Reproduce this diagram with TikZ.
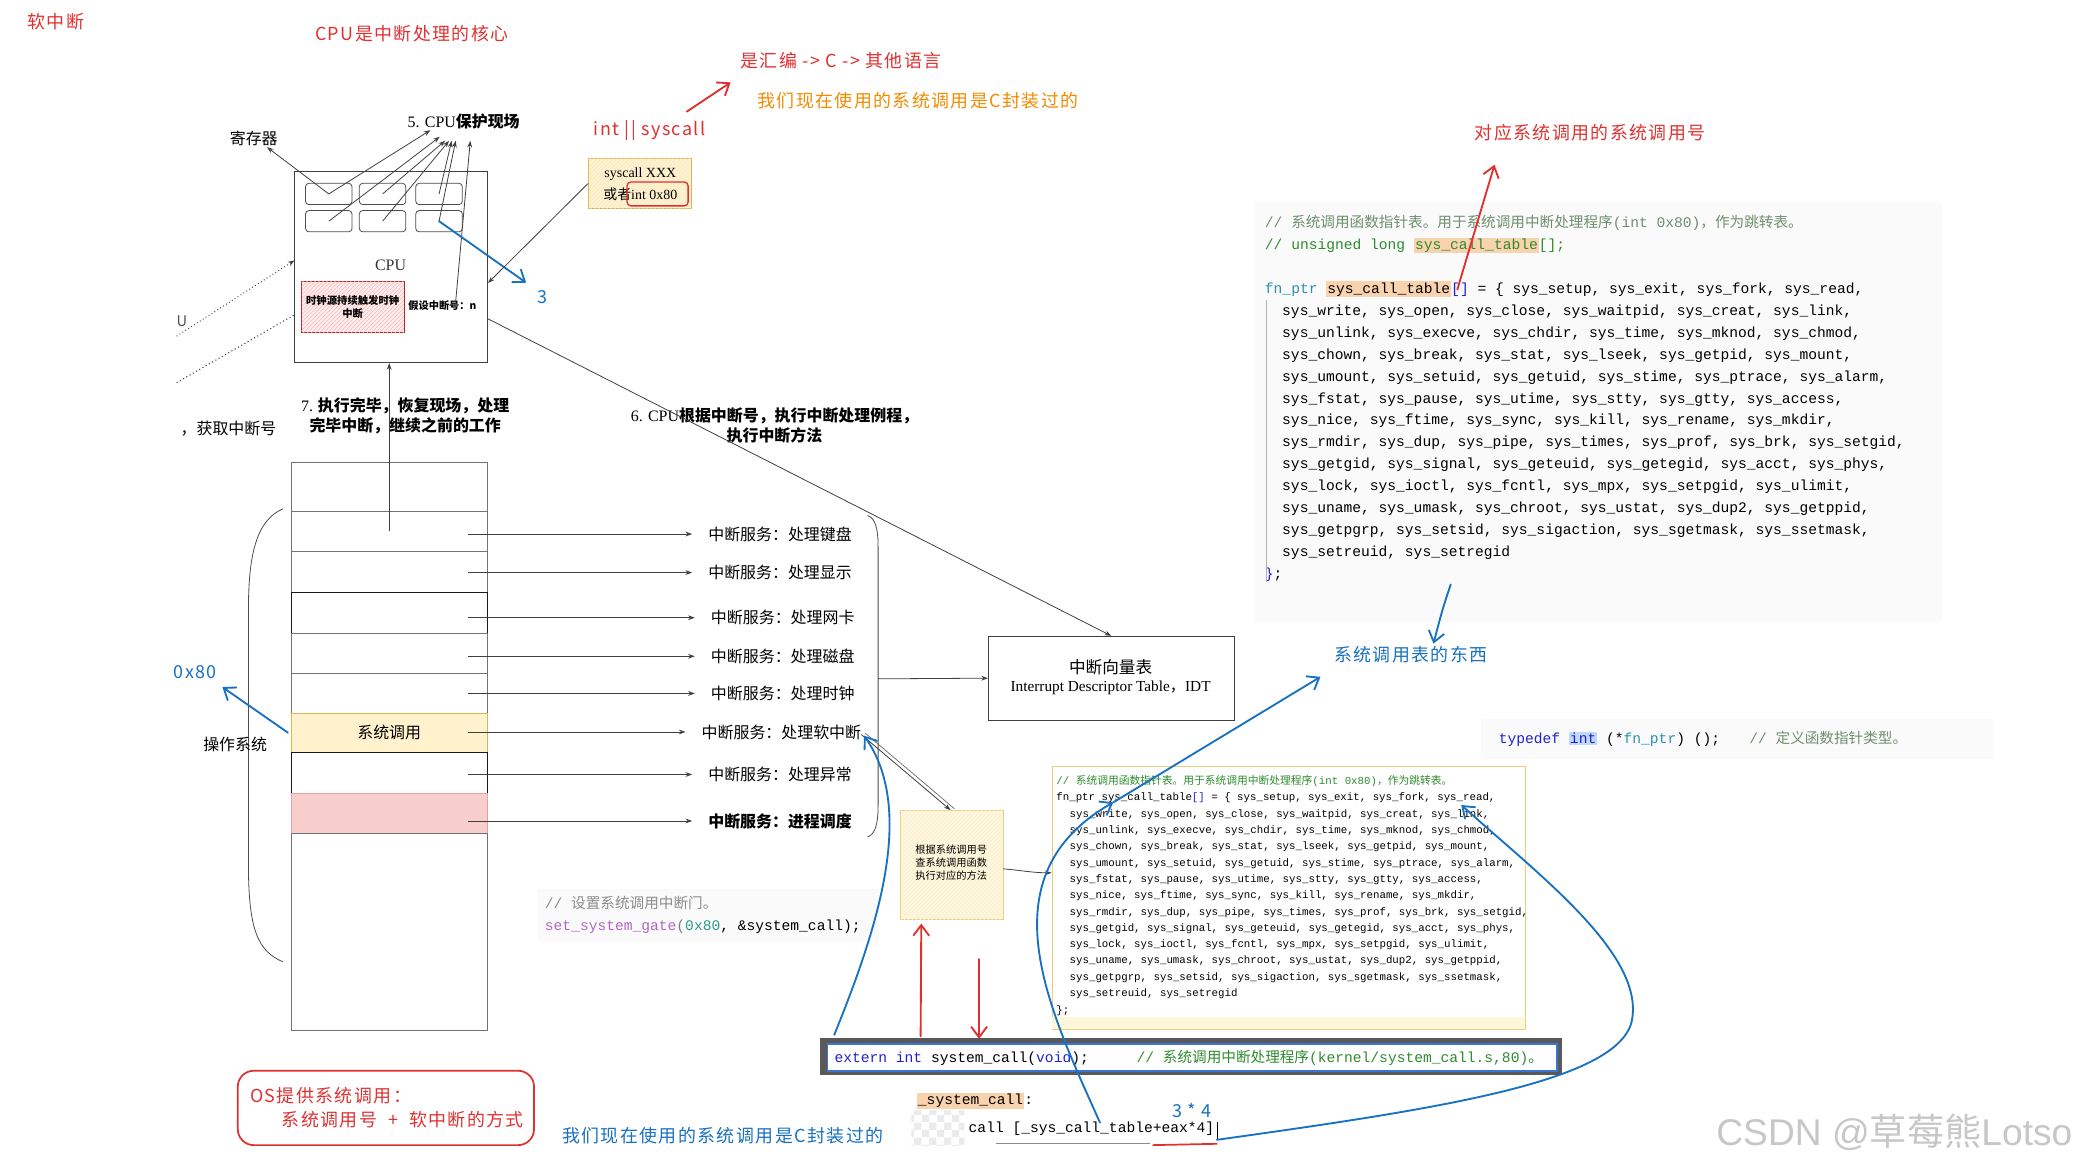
\documentclass[tikz,border=0pt]{standalone}
\usepackage{fontspec}
\setmainfont{Liberation Serif}
\setsansfont{Liberation Sans}
\setmonofont{Liberation Mono}
\newfontfamily\cjk{Noto Sans CJK SC}
\newfontfamily\inkfont[LetterSpace=8]{Noto Sans CJK SC}
\usetikzlibrary{positioning, arrows.meta, patterns}

\definecolor{inkred}{HTML}{E03131}
\definecolor{inkblue}{HTML}{1971C2}
\definecolor{inkorange}{HTML}{F08C00}
\definecolor{kwblue}{HTML}{2222CC}
\definecolor{typeteal}{HTML}{2B91AF}
\definecolor{cmtgreen}{HTML}{2E8B2E}
\definecolor{cmtgray}{HTML}{6F8F6F}
\definecolor{hlorange}{HTML}{F9D2AE}
\definecolor{intbg}{HTML}{BFD9FF}
\definecolor{gatepurple}{HTML}{B565C5}
\definecolor{numteal}{HTML}{2A9A8A}
\definecolor{linkblue}{HTML}{3A74D8}
\definecolor{noteyellow}{HTML}{FFF7DC}
\definecolor{noteborder}{HTML}{E9CF7E}
\definecolor{syscallfill}{HTML}{FFF2CC}
\definecolor{syscalldraw}{HTML}{D6B656}
\definecolor{schedfill}{HTML}{F8CECC}
\definecolor{scheddraw}{HTML}{E8A1A0}

\newcommand\zh[1]{{\cjk #1}}
\newcommand\hl[2]{{\setlength\fboxsep{0.8pt}\colorbox{#1}{#2}}}

\tikzset{
  arr/.style={-{Stealth[length=5pt,width=3.6pt]}, draw=black!75, line width=0.6pt},
  inkarrow/.style={-{Straight Barb[length=8pt,width=12pt,line width=1.4pt]}, line width=1.4pt, line cap=round, line join=round},
  slot/.style={draw=black!55, line width=0.6pt, minimum width=148pt, inner sep=0pt},
  slotdark/.style={slot, draw=black!90},
  sysslot/.style={slot, draw=syscalldraw, fill=syscallfill},
  schedslot/.style={slot, draw=scheddraw, fill=schedfill},
  reg/.style={draw=black!70, line width=0.6pt, rounded corners=2.5pt, minimum width=35pt, minimum height=16pt, inner sep=0pt},
  ink/.style={font=\inkfont\fontsize{13.5}{17}\selectfont, inner sep=0pt},
  svc/.style={font=\cjk\fontsize{12}{15}\selectfont, inner sep=0pt},
  boldtxt/.style={font=\cjk\bfseries\fontsize{12}{15}\selectfont, inner sep=0pt, align=center},
  tinytxt/.style={font=\cjk\fontsize{7.7}{9.8}\selectfont, inner sep=0pt, align=center},
  mono/.style={font=\ttfamily\fontsize{11}{13}\selectfont, inner sep=0pt, anchor=base west},
  monosm/.style={font=\ttfamily\fontsize{8.1}{10}\selectfont, inner sep=0pt, anchor=base west},
}

\begin{document}
\catcode`\_=12
\begin{tikzpicture}[x=1pt, y=-1pt]
  \def\sysrows{{sys_write, sys_open, sys_close, sys_waitpid, sys_creat, sys_link,},
    {sys_unlink, sys_execve, sys_chdir, sys_time, sys_mknod, sys_chmod,},
    {sys_chown, sys_break, sys_stat, sys_lseek, sys_getpid, sys_mount,},
    {sys_umount, sys_setuid, sys_getuid, sys_stime, sys_ptrace, sys_alarm,},
    {sys_fstat, sys_pause, sys_utime, sys_stty, sys_gtty, sys_access,},
    {sys_nice, sys_ftime, sys_sync, sys_kill, sys_rename, sys_mkdir,},
    {sys_rmdir, sys_dup, sys_pipe, sys_times, sys_prof, sys_brk, sys_setgid,},
    {sys_getgid, sys_signal, sys_geteuid, sys_getegid, sys_acct, sys_phys,},
    {sys_lock, sys_ioctl, sys_fcntl, sys_mpx, sys_setpgid, sys_ulimit,},
    {sys_uname, sys_umask, sys_chroot, sys_ustat, sys_dup2, sys_getppid,},
    {sys_getpgrp, sys_setsid, sys_sigaction, sys_sgetmask, sys_ssetmask,},
    {sys_setreuid, sys_setregid}}
  \fill[white] (0,0) rectangle (1568,878);
  \useasboundingbox (0,0) rectangle (1568,878);

  % handwritten notes
  \node[ink, text=inkred] (title) at (42,16) {软中断};
  \node[ink, text=inkred] (core) at (310,25) {CPU是中断处理的核心};
  \node[ink, text=inkred] (lang) at (633,46) {是汇编 -> C -> 其他语言};
  \node[ink, text=inkorange] (wrap) at (691,76) {我们现在使用的系统调用是C封装过的};
  \node[ink, text=inkred] (intsys) at (489,98) {int || syscall};
  \node[ink, text=inkred] (numtxt) at (1197,100) {对应系统调用的系统调用号};
  \node[ink, text=inkblue] (tbltxt) at (1062,493) {系统调用表的东西};
  \node[ink, text=inkblue] (hex) at (147,506) {0x80};
  \node[ink, text=inkblue] (three) at (408,224) {3};
  \node[ink, text=inkblue] (twelve) at (897,836) {3 * 4};
  \node[ink, text=inkblue] (wrap2) at (544,855) {我们现在使用的系统调用是C封装过的};

  % CPU
  \node[draw=black!75, line width=0.7pt, minimum width=145pt, minimum height=144pt, inner sep=0pt] (cpu) at (294.5,201) {};
  \node[reg] (r1) at (247.5,146) {};
  \node[reg] (r2) at (288,146) {};
  \node[reg] (r3) at (330.5,146) {};
  \node[reg] (r4) at (247.5,166.5) {};
  \node[reg] (r5) at (288,166.5) {};
  \node[reg] (r6) at (330.5,166.5) {};
  \node[font=\rmfamily\fontsize{12}{14}\selectfont, text=black!80] (cpulbl) at (294,200) {CPU};
  \node[draw=inkred!80!black, fill=red!6, postaction={pattern=north east lines, pattern color=red!30},
        minimum width=77pt, minimum height=38pt, inner sep=0pt, font=\cjk\bfseries\fontsize{7.8}{10}\selectfont, align=center] (clk) at (265.5,231) {时钟源持续触发时钟\\中断};
  \node[font=\cjk\bfseries\fontsize{7.7}{9}\selectfont, inner sep=0pt] (nid) at (333,230) {假设中断号：n};
  \node[boldtxt, anchor=south] (prot) at (349,97) {{\rmfamily\mdseries 5. CPU}保护现场};
  \node[svc] (regs) at (191,104) {寄存器};
  \draw[arr] (r1.center) -- ([xshift=10pt,yshift=-1pt]regs.south);
  \draw[arr] (r1.center) -- ([xshift=-25pt,yshift=-1pt]prot.south);
  \draw[arr] (r4.center) -- ([xshift=-18pt,yshift=-6pt]prot.south);
  \draw[arr] (r2.center) -- ([xshift=-14pt,yshift=-9pt]prot.south);
  \draw[arr] (r5.center) -- ([xshift=-11pt,yshift=-9pt]prot.south);
  \draw[arr] (r3.center) -- ([xshift=-9pt,yshift=-9pt]prot.south);
  \draw[arr] (r6.center) -- ([xshift=-6pt,yshift=-9pt]prot.south);
  \draw[arr] ([xshift=10pt,yshift=-1pt]nid.north) -- ([xshift=5pt,yshift=-9pt]prot.south);
  \draw[inkarrow, inkblue] (r6.center) -- ([xshift=-8pt,yshift=6pt]three.north west);

  % left side
  \coordinate (dot1) at (133,253);
  \coordinate (dot2) at (133,288);
  \draw[arr, dotted, line width=0.8pt] (dot1) -- ([yshift=5pt]cpu.west);
  \draw[black!75, dotted, line width=0.8pt] (dot2) -- ([yshift=-36pt]cpu.west);
  \node[svc, font=\cjk\fontsize{11}{13}\selectfont, text=black!70] (ulbl) at (137,242) {U};
  \node[svc] (getnum) at (172,323) {，获取中断号};

  % syscall box
  \node[draw=syscalldraw, fill=syscallfill, postaction={pattern=north east lines, pattern color=syscalldraw!30},
        minimum width=77pt, minimum height=38pt, inner sep=0pt] (sc) at (481.5,138) {};
  \node[font=\rmfamily\fontsize{10.5}{12}\selectfont, inner sep=0pt] (sct1) at (482,131) {syscall XXX};
  \node[font=\rmfamily\fontsize{10.5}{12}\selectfont, inner sep=0pt] (sct2) at (482,146) {\zh{或者}int 0x80};
  \node[draw=inkred, line width=1pt, rounded corners=3pt, minimum width=46pt, minimum height=18pt] (hlbox) at (495,146) {};
  \draw[arr] (sc.west) -- ([yshift=-12pt]cpu.east);
  \coordinate (ia) at (517,84);
  \coordinate (ib) at (550,62);
  \draw[inkarrow, inkred] (ia) -- (ib);

  % steps
  \node[boldtxt] (step7) at (305,313) {{\rmfamily\mdseries 7.} 执行完毕，恢复现场，处理\\完毕中断，继续之前的工作};
  \node[boldtxt] (step6) at (583,320) {{\rmfamily\mdseries 6. CPU}根据中断号，执行中断处理例程，\\执行中断方法};

  % interrupt table column
  \foreach \i/\a/\b/\st in {0/348/385/slot, 1/385/415/slot, 2/415/446/slot, 3/446/477/slotdark, 4/477/507/slot,
      5/507/537/slot, 6/537/566/sysslot, 7/566/597/slotdark, 8/597/627/schedslot, 9/627/776/slot}
    \node[\st, minimum height={(\b-\a)*1pt}] (s\i) at (293,{(\a+\b)/2}) {};
  \node[svc] (sysname) at (s6) {系统调用};
  \draw[arr] (s1.center) -- (s1.center |- cpu.south);
  \draw[black!70, line width=0.6pt] (213,383) .. controls (192,392) and (187,420) .. (187,460) -- (187,650) .. controls (187,700) and (194,716) .. (213,724);
  \node[svc] (os) at (177,560) {操作系统};
  \draw[inkarrow, inkblue] ([xshift=-2pt]s6.west) -- ([xshift=4pt,yshift=-6pt]hex.south east);

  % services
  \foreach \i/\x/\y/\txt in {1/533/402/处理键盘, 2/533/431/处理显示, 3/535/465/处理网卡, 4/535/494/处理磁盘,
      5/535/522/处理时钟, 6/528/551/处理软中断, 7/533/583/处理异常}
    \node[svc, anchor=west] (v\i) at (\x,\y) {中断服务：\txt};
  \node[svc, anchor=west, font=\cjk\bfseries\fontsize{12}{15}\selectfont] (v8) at (533,618) {中断服务：进程调度};
  \foreach \i in {1,...,8}
    \draw[arr, shorten <=-15pt, shorten >=12pt] (v\i.west -| s\i.east) -- (v\i.west);
  \draw[black!70, line width=0.6pt] (653,388) .. controls (659,390) and (661,398) .. (661,412) -- (661,606) .. controls (661,620) and (659,628) .. (653,630);
  \coordinate (brace) at (661,511);

  % IDT
  \node[draw=black!75, line width=0.7pt, minimum width=185pt, minimum height=63pt, inner sep=0pt] (idt) at (836.5,510.5) {};
  \node[font=\cjk\fontsize{12.5}{15}\selectfont, inner sep=0pt] (idt1) at (836,502) {中断向量表};
  \node[font=\rmfamily\fontsize{11.5}{13}\selectfont, inner sep=0pt] (idt2) at (836,518) {Interrupt Descriptor Table\zh{，}IDT};
  \draw[arr] (brace) -- (idt.west);
  \draw[arr] ([yshift=-39pt]cpu.east) -- (idt.north);

  % note box
  \node[draw=noteborder, fill=noteyellow, postaction={pattern=north east lines, pattern color=noteborder!35},
        minimum width=77pt, minimum height=82pt, inner sep=0pt] (note) at (716.5,651) {};
  \node[tinytxt] (notetxt) at (716,649) {根据系统调用号\\查系统调用函数\\执行对应的方法};
  \draw[arr] ([yshift=-2pt]v6.east) -- ([xshift=-1pt]note.north);
  \draw[black!60, line width=0.5pt] ([xshift=3pt,yshift=-1pt]v6.east) -- ([xshift=2pt,yshift=1pt]note.north);

  % upper snippet
  \fill[black!2] (945,152) rectangle (1462,468);
  \node[mono, text=cmtgray] (c1) at (952,171.6) {// \zh{系统调用函数指针表。用于系统调用中断处理程序}(int 0x80)\zh{，作为跳转表。}};
  \node[mono, text=cmtgreen] (c2) at (952,187.6) {// unsigned long \hl{hlorange}{sys_call_table}[];};
  \node[mono] (c3) at (952,220.6) {{\color{typeteal}fn_ptr} \hl{hlorange}{sys_call_table}{\color{kwblue}[]} = \{ sys_setup, sys_exit, sys_fork, sys_read,};
  \foreach \row [count=\i] in \sysrows
    \node[mono] (t\i) at (965,{237.6+(\i-1)*16.45}) {\row};
  \node[mono] (c4) at (952,435.6) {{\color{kwblue}\}};};
  \draw[black!30, line width=0.6pt] (953.5,226) -- (953.5,438);

  % lower table
  \node[draw=noteborder, fill=white, line width=0.8pt, minimum width=356pt, minimum height=198pt, inner sep=0pt] (tbl) at (970,676) {};
  \fill[noteyellow] ([xshift=0.5pt,yshift=0.5pt]tbl.south west) rectangle ([xshift=-0.5pt,yshift=10pt]tbl.south east);
  \node[monosm, text=cmtgreen] (k1) at (795,590.7) {// \zh{系统调用函数指针表。用于系统调用中断处理程序}(int 0x80)\zh{，作为跳转表。}};
  \node[monosm] (k2) at (795,602.7) {fn_ptr sys_call_table{\color{kwblue}[]} = \{ sys_setup, sys_exit, sys_fork, sys_read,};
  \foreach \row [count=\i] in \sysrows
    \node[monosm] (u\i) at (805,{615.2+(\i-1)*12.27}) {\row};
  \node[monosm] (k3) at (795,762.7) {\};};
  \draw[arr] ([yshift=-3pt]note.east) to[out=-5, in=180] ([yshift=19pt]tbl.west);

  % typedef
  \fill[black!2] (1115,541) rectangle (1500,571);
  \node[mono] (td) at (1128,559.6) {{\color{kwblue}typedef} \hl{intbg}{\color{kwblue}int} (*{\color{typeteal}fn_ptr}) ();\hspace{22pt}{\color{cmtgray}// \zh{定义函数指针类型。}}};

  % set_system_gate
  \fill[black!2] (405,669) rectangle (662,709);
  \node[mono, text=black!45] (g1) at (410,683.6) {// \zh{设置系统调用中断门。}};
  \node[mono] (g2) at (410,700.6) {{\color{gatepurple}set_system_gate}{\color{black!50}(}{\color{numteal}0x80}, \&system_call);};

  % extern line
  \fill[black!65] (617,781) rectangle (1176,809);
  \node[draw=linkblue, line width=1.2pt, fill=white, minimum width=549pt, minimum height=20pt, inner sep=0pt] (ext) at (897.5,796) {};
  \node[mono] (e1) at (628,799.6) {{\color{kwblue}extern int} system_call({\color{kwblue}void});\hspace{36pt}{\color{cmtgreen}// \zh{系统调用中断处理程序}(kernel/system_call.s,80)\zh{。}}};

  % _system_call
  \fill[pattern=checkerboard, pattern color=black!8] (686,836) rectangle (726,862);
  \node[mono] (sc1) at (690,831.6) {\hl{hlorange}{_system_call}:};
  \node[mono] (sc2) at (729,852.6) {call [_sys_call_table+eax*4]};
  \draw[black, line width=1pt] ([xshift=2pt]sc2.north east) -- ([xshift=2pt,yshift=-2pt]sc2.south east);
  \draw[black!45, line width=0.7pt] (750,861) -- (866,861);
  \draw[inkred, line width=1.3pt, line cap=round] (868,862) -- (916,861);

  % OS box
  \node[draw=inkred, line width=1.3pt, rounded corners=12pt, minimum width=223pt, minimum height=56pt] (osbox) at (290.5,834) {};
  \node[ink, text=inkred, anchor=west] (os1) at (188,825) {OS提供系统调用：};
  \node[ink, text=inkred, anchor=west] (os2) at (212,843) {系统调用号 ~+~ 软中断的方式};

  % red and blue strokes
  \coordinate (ra) at (1097,218);
  \coordinate (rb) at (1125,124);
  \draw[inkarrow, inkred] (ra) -- (rb);
  \coordinate (ba) at (1092,440);
  \draw[inkarrow, inkblue] (ba) .. controls (1086,458) .. ([xshift=75pt,yshift=2pt]tbltxt.north west);
  \coordinate (up1) at (693,780);
  \draw[inkarrow, inkred] (up1) -- ([xshift=-23pt,yshift=-3pt]note.south);
  \coordinate (dn1) at (737,722);
  \coordinate (dn2) at (737,782);
  \draw[inkarrow, inkred] (dn1) -- (dn2);
  \coordinate (b1) at (628,779);
  \draw[inkarrow, inkblue] (b1) .. controls (660,700) and (690,610) .. ([xshift=2pt,yshift=3pt]v6.south east);
  \coordinate (b2) at (828,845);
  \coordinate (b3) at (838,604);
  \draw[inkarrow, inkblue] (b2) .. controls (790,760) and (740,660) .. (b3);
  \draw[inkarrow, inkblue] (b3) -- ([xshift=-10pt,yshift=-10pt]tbltxt.south west);
  \coordinate (b4) at (916,858);
  \coordinate (b5) at (1100,606);
  \draw[inkarrow, inkblue] (b4) .. controls (1080,835) and (1215,815) .. (1228,770) .. controls (1240,720) and (1160,660) .. (b5);

  % watermark
  \node[font=\sffamily\fontsize{28}{30}\selectfont, text=black!22, inner sep=0pt] (wm) at (1426,852) {CSDN @\zh{草莓熊}Lotso};
\end{tikzpicture}
\end{document}
